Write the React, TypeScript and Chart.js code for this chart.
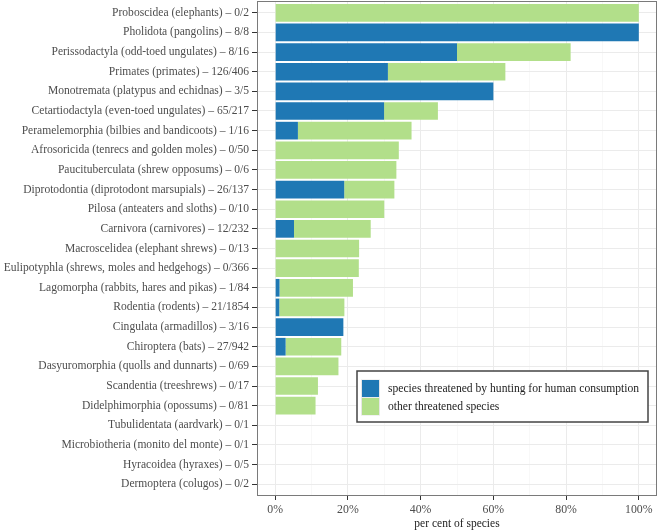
import React, { useEffect, useRef } from "react";
import { Chart, registerables } from "chart.js";

Chart.register(...registerables);

const categories = [
  "Proboscidea (elephants) – 0/2",
  "Pholidota (pangolins) – 8/8",
  "Perissodactyla (odd-toed ungulates) – 8/16",
  "Primates (primates) – 126/406",
  "Monotremata (platypus and echidnas) – 3/5",
  "Cetartiodactyla (even-toed ungulates) – 65/217",
  "Peramelemorphia (bilbies and bandicoots) – 1/16",
  "Afrosoricida (tenrecs and golden moles) – 0/50",
  "Paucituberculata (shrew opposums) – 0/6",
  "Diprotodontia (diprotodont marsupials) – 26/137",
  "Pilosa (anteaters and sloths) – 0/10",
  "Carnivora (carnivores) – 12/232",
  "Macroscelidea (elephant shrews) – 0/13",
  "Eulipotyphla (shrews, moles and hedgehogs) – 0/366",
  "Lagomorpha (rabbits, hares and pikas) – 1/84",
  "Rodentia (rodents) – 21/1854",
  "Cingulata (armadillos) – 3/16",
  "Chiroptera (bats) – 27/942",
  "Dasyuromorphia (quolls and dunnarts) – 0/69",
  "Scandentia (treeshrews) – 0/17",
  "Didelphimorphia (opossums) – 0/81",
  "Tubulidentata (aardvark) – 0/1",
  "Microbiotheria (monito del monte) – 0/1",
  "Hyracoidea (hyraxes) – 0/5",
  "Dermoptera (colugos) – 0/2",
];

// per cent of species threatened by hunting for human consumption
const huntedPct = [
  0, 100, 50, 31.0, 60, 29.95, 6.25, 0, 0, 18.98, 0, 5.17, 0, 0, 1.19, 1.13,
  18.75, 2.87, 0, 0, 0, 0, 0, 0, 0,
];

// per cent of species otherwise threatened
const otherPct = [
  100, 0, 31.25, 32.3, 0, 14.8, 31.25, 34.0, 33.33, 13.8, 30.0, 21.1, 23.08,
  23.0, 20.2, 17.9, 0, 15.3, 17.4, 11.76, 11.1, 0, 0, 0, 0,
];

const seriesLabels = [
  "species threatened by hunting for human consumption",
  "other threatened species",
];
const seriesColors = ["#1f78b4", "#b2df8a"];

const xTickValues = [0, 10, 20, 30, 40, 50, 60, 70, 80, 90, 100];

const FONT = "'Liberation Serif', 'DejaVu Serif', serif";

const panelPlugin = {
  id: "panelBorder",
  afterDatasetsDraw(chart: any) {
    const { ctx, chartArea } = chart;
    ctx.save();
    ctx.strokeStyle = "#7a7a7a";
    ctx.lineWidth = 1;
    ctx.strokeRect(
      Math.round(chartArea.left) + 0.5,
      Math.round(chartArea.top) + 0.5,
      Math.round(chartArea.right - chartArea.left) - 1,
      Math.round(chartArea.bottom - chartArea.top) - 1
    );
    ctx.restore();
  },
};

const legendPlugin = {
  id: "insideLegend",
  afterDraw(chart: any) {
    const { ctx } = chart;
    const x0 = 357;
    const y0 = 371;
    const w = 291;
    const h = 51;
    ctx.save();
    ctx.fillStyle = "#ffffff";
    ctx.fillRect(x0, y0, w, h);
    ctx.strokeStyle = "#444444";
    ctx.lineWidth = 1.5;
    ctx.strokeRect(x0, y0, w, h);
    chart.data.datasets.forEach((ds: any, i: number) => {
      const ky = 380 + i * 18;
      ctx.fillStyle = "#e6e6e6";
      ctx.fillRect(361, ky - 0.5, 19, 18);
      ctx.fillStyle = ds.backgroundColor;
      ctx.fillRect(362, ky, 17, 17);
      ctx.fillStyle = "#222222";
      ctx.font = `11.6px ${FONT}`;
      ctx.textBaseline = "middle";
      ctx.textAlign = "left";
      ctx.fillText(ds.label, 388, ky + 8.5);
    });
    ctx.restore();
  },
};

export default function App() {
  const canvasRef = useRef<HTMLCanvasElement | null>(null);

  useEffect(() => {
    const canvas = canvasRef.current;
    if (!canvas) return;
    const makeData = (arr: number[]) => arr.map((v, i) => ({ x: v, y: i }));
    const chart = new Chart(canvas, {
      type: "bar",
      data: {
        datasets: [
          {
            label: seriesLabels[0],
            data: makeData(huntedPct),
            backgroundColor: seriesColors[0],
            borderWidth: 0,
            barPercentage: 0.9,
            categoryPercentage: 1,
          },
          {
            label: seriesLabels[1],
            data: makeData(otherPct),
            backgroundColor: seriesColors[1],
            borderWidth: 0,
            barPercentage: 0.9,
            categoryPercentage: 1,
          },
        ],
      } as any,
      options: {
        indexAxis: "y",
        responsive: false,
        animation: false,
        layout: { padding: { top: 1, right: 1, left: 0, bottom: 0 } },
        plugins: {
          legend: { display: false },
          tooltip: { enabled: false },
        },
        scales: {
          x: {
            type: "linear",
            stacked: true,
            min: -5,
            max: 105,
            offset: false,
            afterBuildTicks: (scale: any) => {
              scale.ticks = xTickValues.map((v) => ({ value: v }));
            },
            afterFit: (scale: any) => {
              scale.height = 35;
              scale.paddingLeft = 0;
              scale.paddingRight = 0;
            },
            border: { display: false },
            grid: {
              offset: false,
              color: (ctx: any) =>
                ctx.tick && ctx.tick.value % 20 === 0 ? "#ebebeb" : "#f3f3f3",
              lineWidth: (ctx: any) =>
                ctx.tick && ctx.tick.value % 20 === 0 ? 1 : 0.6,
              tickColor: (ctx: any) =>
                ctx.tick && ctx.tick.value % 20 === 0
                  ? "#333333"
                  : "rgba(0,0,0,0)",
              tickLength: 4,
              drawTicks: true,
            },
            ticks: {
              autoSkip: false,
              maxRotation: 0,
              padding: 3,
              color: "#4d4d4d",
              font: { family: FONT, size: 11.8 },
              callback: (v: any) => (Number(v) % 20 === 0 ? `${v}%` : ""),
            },
            title: {
              display: true,
              text: "per cent of species",
              color: "#222222",
              font: { family: FONT, size: 11.5 },
              padding: { top: 0, bottom: 0 },
            },
          },
          y: {
            type: "linear",
            stacked: true,
            reverse: true,
            min: -0.6,
            max: 24.6,
            offset: false,
            afterBuildTicks: (scale: any) => {
              scale.ticks = categories.map((_, i) => ({ value: i }));
            },
            afterFit: (scale: any) => {
              scale.width = 257;
              scale.paddingTop = 0;
              scale.paddingBottom = 0;
            },
            border: { display: false },
            grid: {
              offset: false,
              color: "#ebebeb",
              tickColor: "#333333",
              tickLength: 5,
              drawTicks: true,
            },
            ticks: {
              autoSkip: false,
              padding: 3,
              color: "#4d4d4d",
              font: { family: FONT, size: 11.55 },
              callback: (v: any) => categories[Number(v)] ?? "",
            },
          },
        },
      } as any,
      plugins: [panelPlugin, legendPlugin],
    });
    return () => chart.destroy();
  }, []);

  return (
    <div
      style={{
        position: "fixed",
        left: 0,
        top: 0,
        width: 658,
        height: 531,
        background: "#ffffff",
      }}
    >
      <canvas ref={canvasRef} width={658} height={531} />
    </div>
  );
}
